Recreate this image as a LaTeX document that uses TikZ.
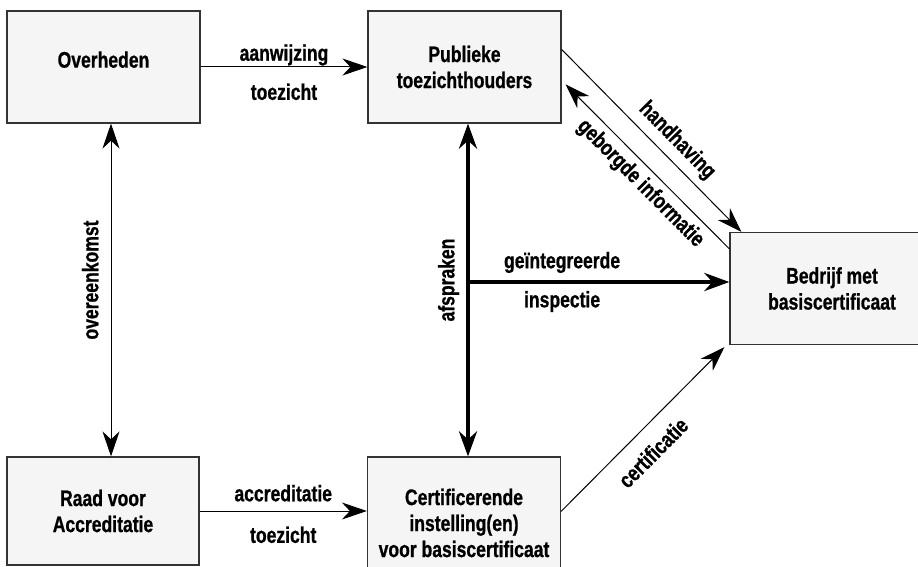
\documentclass[tikz,border=0pt]{standalone}
\usepackage{fontspec}
\setmainfont{Liberation Sans}[FakeStretch=0.78, BoldFeatures={FakeBold=0.8}]
\usepackage{tikz}
\usetikzlibrary{arrows.meta}
\tikzstyle{box} = [draw=black!80, line width=1.2pt, fill=black!4, align=center, minimum width=193pt, minimum height=112pt, inner sep=0pt]
\tikzstyle{arrow} = [line width=1pt,->,>={Stealth[length=25pt,width=17pt,inset=8pt]}]
\tikzstyle{twoway} = [line width=1pt,<->,>={Stealth[length=25pt,width=17pt,inset=8pt]}]
\tikzstyle{thickarrow} = [line width=4pt,->,>={Stealth[length=25pt,width=18pt,inset=8pt]}]
\tikzstyle{thicktwoway} = [line width=4pt,<->,>={Stealth[length=25pt,width=18pt,inset=8pt]}]
\tikzstyle{lbl} = [inner sep=1pt]

\begin{document}
\begin{tikzpicture}[x=1pt, y=-1pt, font=\fontsize{22.5}{26}\selectfont\bfseries]
        \useasboundingbox (0,0) rectangle (918,567);
        \clip (0,0) rectangle (918,567);
        % Boxes
        \node[box, text depth=15pt] (overheden) at (103.5,67) {Overheden};
        \node[box] (publieke) at (464.5,67) {Publieke\\toezichthouders};
        \node[box, minimum width=204pt] (bedrijf) at (832,288.5) {Bedrijf met\\basiscertificaat};
        \node[box, minimum width=192pt, minimum height=108pt] (raad) at (103,511) {Raad voor\\Accreditatie};
        \node[box, minimum height=132pt] (cert) at (464,523) {Certificerende\\instelling(en)\\voor basiscertificaat};
        \coordinate (split) at (468,282);

        % Connectors
        \draw[arrow] (overheden) -- (publieke)
            node[lbl, midway, above] {aanwijzing}
            node[lbl, midway, below=15pt] {toezicht};
        \draw[arrow] (raad.east) -- (raad.east -| cert.west)
            node[lbl, midway, above=8pt] {accreditatie}
            node[lbl, midway, below=14pt] {toezicht};
        \draw[twoway] ([xshift=8pt]raad.north) -- ([xshift=7.5pt]overheden.south)
            node[lbl, pos=0.53, sloped, above=11pt] {overeenkomst};
        \draw[thicktwoway] (split |- cert.north) -- (split |- publieke.south)
            node[lbl, pos=0.53, sloped, above=6pt] {afspraken};
        \draw[thickarrow] (split) -- (split -| bedrijf.west)
            node[lbl, pos=0.36, above=6pt] {geïntegreerde}
            node[lbl, pos=0.36, below=6pt] {inspectie};
        \draw[arrow] ([yshift=-39pt]publieke.north east) -- ([xshift=12pt]bedrijf.north west)
            node[lbl, pos=0.57, sloped, above=6pt] {handhaving};
        \draw[arrow] ([yshift=-17pt]bedrijf.north west) -- ([xshift=4pt,yshift=-74pt]publieke.north east)
            node[lbl, pos=0.47, sloped, below=5pt] {geborgde informatie};
        \draw[arrow] ([yshift=-55pt]cert.north east) -- ([xshift=-5pt,yshift=-2pt]bedrijf.south west)
            node[lbl, pos=0.46, sloped, below=14pt] {certificatie};
\end{tikzpicture}
\end{document}
